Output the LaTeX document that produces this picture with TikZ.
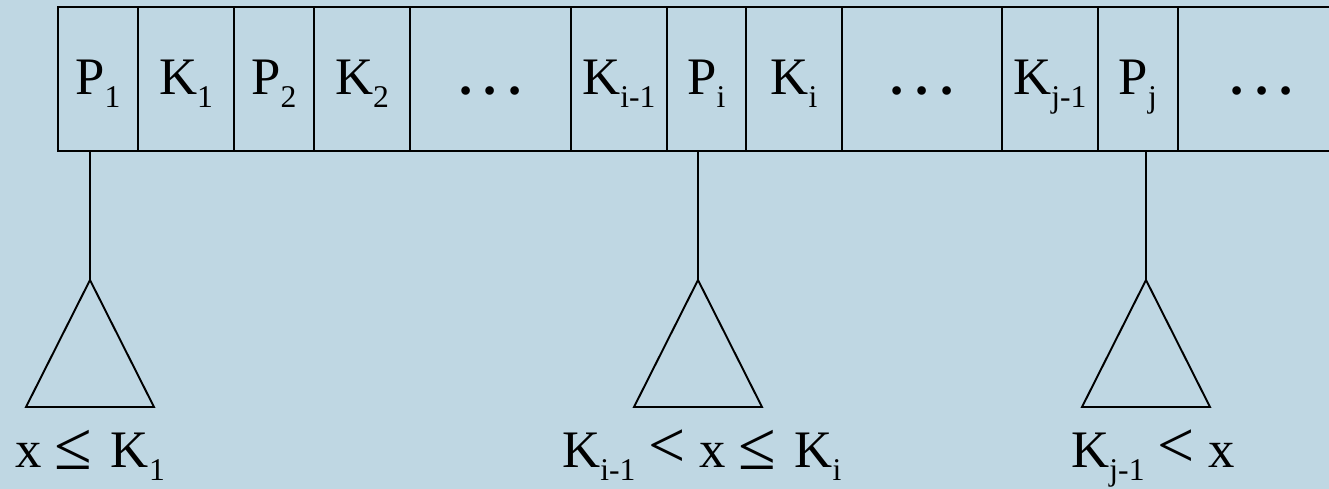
\documentclass[tikz,border=0pt]{standalone}
\usepackage{fontspec}
\setmainfont{Liberation Serif}
\usetikzlibrary{positioning,calc}
\definecolor{bgblue}{RGB}{191,215,227}
\newcommand{\idx}[1]{\raisebox{-7pt}{\fontsize{18}{18}\selectfont #1}}
\newcommand{\lesym}{\raisebox{-1pt}{\scalebox{1.3}{≤}}}
\newcommand{\ltsym}{\scalebox{1.25}{<}}
\newcommand{\ddd}{\textbf{.}\hspace{0.22em}\textbf{.}\hspace{0.22em}\textbf{.}}
\tikzset{
  cell/.style={draw,line width=1.1pt,minimum height=2.88cm,inner sep=0pt,outer sep=0pt,
               text height=0.9cm,text depth=0.26cm,font=\fontsize{30}{32}\selectfont},
  tri/.style ={draw,line width=1.1pt,line join=miter},
  link/.style={line width=1.1pt},
  lab/.style ={anchor=base west,inner sep=0pt,font=\fontsize{30}{32}\selectfont},
}
\begin{document}
\begin{tikzpicture}[x=0.02cm,y=-0.02cm]
  \clip (0,0) rectangle (1329,489);
  \fill[bgblue] (0,0) rectangle (1329,489);
  % the node record
  \node[cell,minimum width=1.6cm,anchor=north west] (p1) at (58,7) {P\idx{1}};
  \node[cell,minimum width=1.92cm,right=0pt of p1] (k1) {K\idx{1}};
  \node[cell,minimum width=1.6cm,right=0pt of k1] (p2) {P\idx{2}};
  \node[cell,minimum width=1.92cm,right=0pt of p2] (k2) {K\idx{2}};
  \node[cell,minimum width=3.22cm,right=0pt of k2] (d1) {\ddd};
  \node[cell,minimum width=1.92cm,right=0pt of d1] (ki1) {K\idx{i-1}};
  \node[cell,minimum width=1.58cm,right=0pt of ki1] (pi) {P\idx{i}};
  \node[cell,minimum width=1.92cm,right=0pt of pi] (ki) {K\idx{i}};
  \node[cell,minimum width=3.2cm,right=0pt of ki] (d2) {\ddd};
  \node[cell,minimum width=1.92cm,right=0pt of d2] (kj1) {K\idx{j-1}};
  \node[cell,minimum width=1.6cm,right=0pt of kj1] (pj) {P\idx{j}};
  \node[cell,minimum width=3.36cm,right=0pt of pj] (d3) {\ddd};
  % subtrees
  \coordinate (t1) at (90,280);
  \coordinate (t2) at (698,280);
  \coordinate (t3) at (1146,280);
  \draw[link] (t1 |- p1.south) -- (t1);
  \draw[link] (t2 |- pi.south) -- (t2);
  \draw[link] (t3 |- pj.south) -- (t3);
  \draw[tri] (t1) -- ++(-64,127) -- ++(128,0) -- cycle;
  \draw[tri] (t2) -- ++(-64,127) -- ++(128,0) -- cycle;
  \draw[tri] (t3) -- ++(-64,127) -- ++(128,0) -- cycle;
  % key ranges
  \node[lab] (r1) at (15,468) {x \lesym\hspace{0.35em}K\idx{1}};
  \node[lab] (r2) at (562,468) {K\idx{i-1} \ltsym\ x \lesym\hspace{0.35em}K\idx{i}};
  \node[lab] (r3) at (1071,468) {K\idx{j-1} \ltsym\ x};
\end{tikzpicture}
\end{document}
